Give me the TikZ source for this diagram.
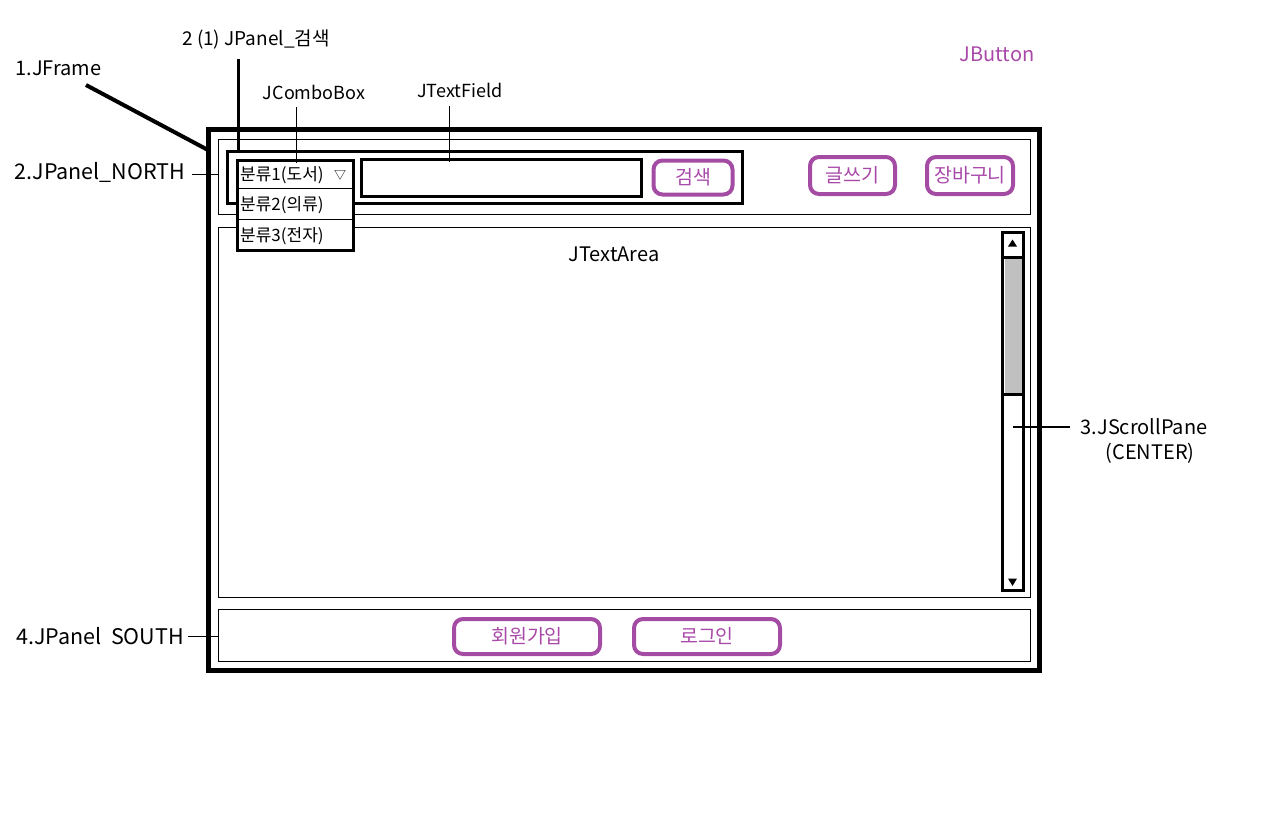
\documentclass[tikz,border=0pt]{standalone}
\usepackage{fontspec}
\setmainfont{Noto Sans CJK KR}
\usetikzlibrary{calc}
\definecolor{btnc}{RGB}{164,76,164}
\definecolor{btnt}{RGB}{168,72,168}
\definecolor{thumbc}{RGB}{192,192,192}
\begin{document}
\begin{tikzpicture}[x=1pt,y=-1pt,
  lbl/.style={font=\fontsize{20}{24}\selectfont, inner sep=0pt},
  blbl/.style={font=\fontsize{21.5}{24}\selectfont, inner sep=0pt},
  slbl/.style={font=\fontsize{18}{22}\selectfont, inner sep=0pt},
  itm/.style={font=\fontsize{17}{20}\selectfont, inner sep=0pt, anchor=west},
  framebox/.style={draw, line width=5pt, outer sep=0pt, inner sep=0pt, anchor=north west},
  panelbox/.style={draw, line width=1pt, outer sep=0pt, inner sep=0pt, anchor=north west},
  boldbox/.style={draw, line width=3pt, outer sep=0pt, inner sep=0pt, anchor=north west},
  btnbox/.style={draw=btnc, line width=4pt, rounded corners=9pt, outer sep=0pt, inner sep=0pt, text=btnt, font=\fontsize{19.5}{22}\selectfont},
  thinlead/.style={line width=1pt},
]
\useasboundingbox (0,0) rectangle (1280,812);

% frame and panels
\node[framebox, minimum width=831pt, minimum height=541pt] (frame) at (208,129) {};
\node[panelbox, minimum width=812pt, minimum height=75pt] (north) at (218,139) {};
\node[panelbox, minimum width=812pt, minimum height=370pt] (center) at (218,227) {};
\node[panelbox, minimum width=812pt, minimum height=52pt] (south) at (218,609) {};

% search panel
\node[boldbox, minimum width=515pt, minimum height=52pt] (search) at (227,151.5) {};
\node[boldbox, minimum width=280pt, minimum height=37pt] (tfield) at (361.5,159.5) {};
\node[btnbox, minimum width=79pt, minimum height=34pt] (bsearch) at (693,177.5) {검색};

% combo box
\node[boldbox, fill=white, minimum width=116pt, minimum height=90pt] (combo) at (237,160.5) {};
\draw[thinlead] (combo.west |- 0,188.5) coordinate (d1a) -- (combo.east |- d1a);
\draw[thinlead] (combo.west |- 0,219.5) coordinate (d2a) -- ($(combo.east |- d2a)+(2,0)$);
\node[itm] (c1) at (240,175) {분류1(도서)};
\node[font=\fontsize{12}{12}\selectfont, inner sep=0pt] (tri) at (340,175) {▽};
\node[itm] (c2) at (240,205) {분류2(의류)};
\node[itm] (c3) at (240,236) {분류3(전자)};

% right buttons
\node[btnbox, minimum width=85pt, minimum height=37pt] (bwrite) at (852.5,175.5) {글쓰기};
\node[btnbox, minimum width=86pt, minimum height=37pt] (bcart) at (970,175.5) {장바구니};

% south buttons
\node[btnbox, minimum width=146pt, minimum height=35pt] (bjoin) at (527,636.5) {회원가입};
\node[btnbox, minimum width=146pt, minimum height=35pt] (blogin) at (707,636.5) {로그인};

% text area label
\node[lbl] (tarea) at (614,254) {JTextArea};

% scrollbar
\node[boldbox, fill=white, minimum width=21pt, minimum height=358pt] (sbar) at (1002.5,232.5) {};
\fill[thumbc] (1004.5,259) rectangle (1021.5,393);
\draw[line width=3pt] (sbar.west |- 0,257.5) -- (sbar.east |- 0,257.5);
\draw[line width=3pt] (sbar.west |- 0,394) -- (sbar.east |- 0,394);
\fill (1008,246.5) -- (1017,246.5) -- (1012.5,239.5) -- cycle;
\fill (1008,578.5) -- (1017,578.5) -- (1012.5,586) -- cycle;

% labels
\node[lbl] (lframe) at (58.5,68) {1.JFrame};
\node[font=\fontsize{19}{22}\selectfont, inner sep=0pt] (lsearch) at (256,40) {2 (1) JPanel\_검색};
\node[slbl] (lcombo) at (314,92) {JComboBox};
\node[slbl] (ltf) at (460,90) {JTextField};
\node[blbl] (lnorth) at (100,172) {2.JPanel\_NORTH};
\node[blbl] (lsouth) at (100,636) {4.JPanel\ \ SOUTH};
\node[lbl, text=btnt] (lbtn) at (997,54) {JButton};
\node[lbl] (lsp1) at (1144,427) {3.JScrollPane};
\node[lbl] (lsp2) at (1150,453) {(CENTER)};

% leaders
\coordinate (ljf) at (86,85);
\draw[line width=4pt] (ljf) -- (frame.west |- 0,150);
\coordinate (ljs) at (238.5,59);
\draw[line width=3pt] (ljs) -- (ljs |- search.north);
\coordinate (ljc) at (296,107);
\draw[thinlead] (ljc) -- ($(ljc |- combo.north)+(0,2)$);
\coordinate (ljt) at (449,106);
\draw[thinlead] (ljt) -- ($(ljt |- tfield.north)+(0,2)$);
\coordinate (ljn) at (192,174);
\draw[thinlead] (ljn) -- (ljn -| north.west);
\coordinate (ljso) at (188,636);
\draw[thinlead] (ljso) -- (ljso -| south.west);
\coordinate (ljsp) at (1070,427);
\draw[line width=2.5pt] (ljsp) -- (1013,427);
\end{tikzpicture}
\end{document}
